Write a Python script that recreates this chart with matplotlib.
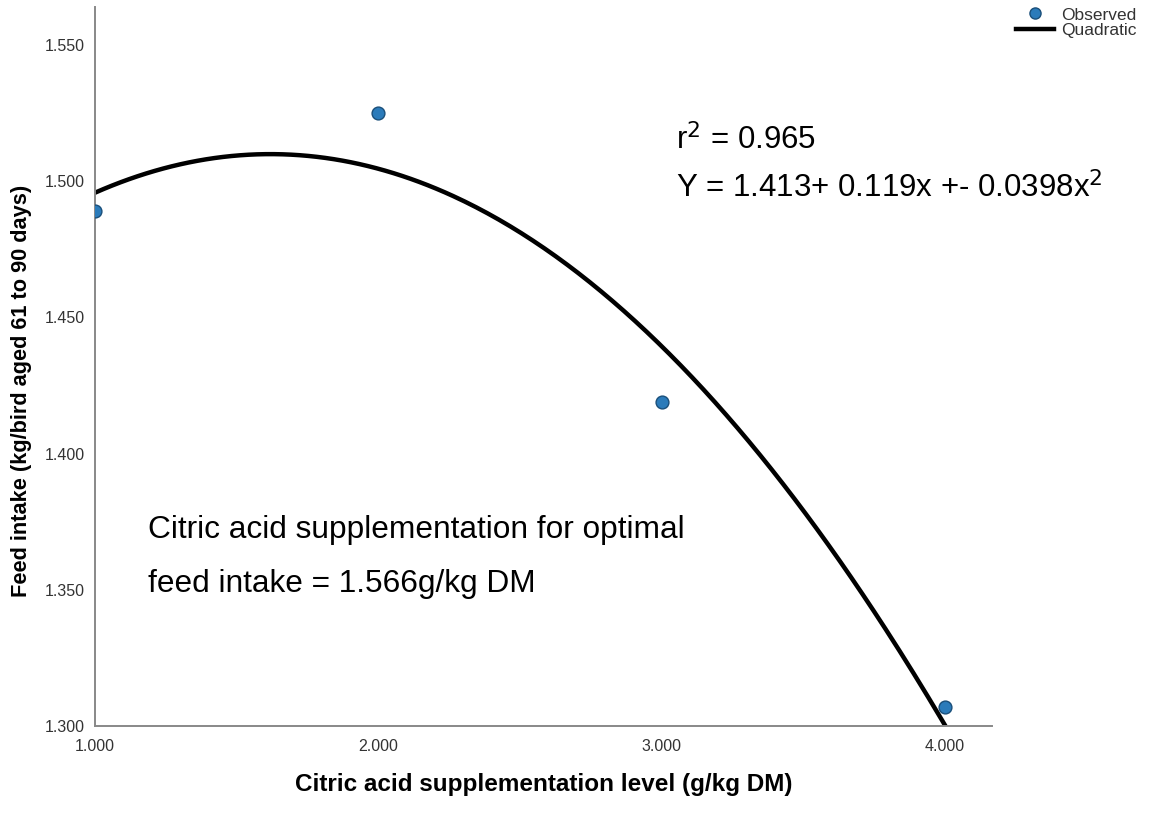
import numpy as np
import matplotlib
matplotlib.use("Agg")
import matplotlib.pyplot as plt
from matplotlib.lines import Line2D

plt.rcParams['font.family'] = ['Liberation Sans', 'DejaVu Sans']

# data
levels = [1.0, 2.0, 3.0, 4.0]
feed_intake = [1.489, 1.525, 1.419, 1.307]
x_ticks = [1.0, 2.0, 3.0, 4.0]
y_ticks = [1.300, 1.350, 1.400, 1.450, 1.500, 1.550]

# quadratic fit of the observed points
coef = np.polyfit(levels, feed_intake, 2)
xs = np.linspace(1.0, 4.0, 300)
ys = np.polyval(coef, xs)

fig = plt.figure(figsize=(11.51, 8.21), dpi=100)
ax = fig.add_axes([0.0825, 0.1157, 0.7795, 0.8758])

ax.plot(xs, ys, color='black', lw=3.2, zorder=2)
ax.scatter(levels, feed_intake, s=85, color='#2b7bba', edgecolor='#1a4f7a',
           linewidth=1.0, zorder=3)

ax.set_xlim(1.0, 4.166)
ax.set_ylim(1.300, 1.564)
ax.set_xticks(x_ticks)
ax.set_xticklabels(['%.3f' % v for v in x_ticks])
ax.set_yticks(y_ticks)
ax.set_yticklabels(['%.3f' % v for v in y_ticks])
ax.tick_params(length=0, labelsize=11.5, labelcolor='#333333', pad=9)
ax.tick_params(axis='y', pad=7)

for s in ['top', 'right']:
    ax.spines[s].set_visible(False)
for s in ['left', 'bottom']:
    ax.spines[s].set_color('#888888')
    ax.spines[s].set_linewidth(1.4)

ax.set_xlabel('Citric acid supplementation level (g/kg DM)', fontsize=17.5,
              fontweight='bold', labelpad=14)
ax.set_ylabel('Feed intake (kg/bird aged 61 to 90 days)', fontsize=15.7,
              fontweight='bold')
ax.yaxis.set_label_coords(-0.070, 0.466)

ax.text(0.587, 0.829, r'r$^2$ = 0.965', transform=fig.transFigure,
        fontsize=22.5, ha='left', va='center')
ax.text(0.587, 0.771, r'Y = 1.413+ 0.119x +- 0.0398x$^2$',
        transform=fig.transFigure, fontsize=22.5, ha='left', va='center')
ax.text(0.1285, 0.354, 'Citric acid supplementation for optimal',
        transform=fig.transFigure, fontsize=22.8, ha='left', va='center')
ax.text(0.1285, 0.289, 'feed intake = 1.566g/kg DM',
        transform=fig.transFigure, fontsize=22.8, ha='left', va='center')

handles = [Line2D([], [], marker='o', ls='none', markersize=8,
                  markerfacecolor='#2b7bba', markeredgecolor='#1a4f7a'),
           Line2D([], [], color='black', lw=3.2)]
fig.legend(handles, ['Observed', 'Quadratic'], loc='upper left',
           bbox_to_anchor=(0.869, 1.01), frameon=False, fontsize=12.5,
           handlelength=2.2, handletextpad=0.4, labelspacing=0.0,
           labelcolor='#333333')

fig.savefig('out.png', dpi=100)
